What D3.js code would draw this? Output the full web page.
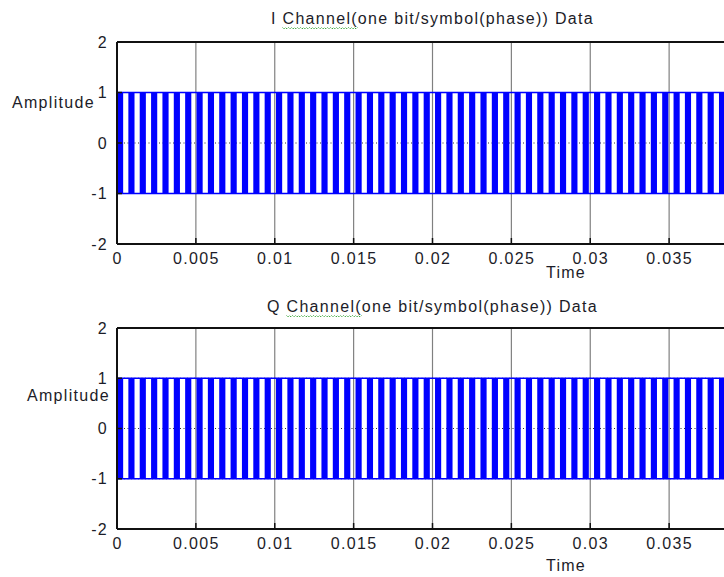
<!DOCTYPE html>
<html><head><meta charset="utf-8">
<script src="https://cdn.jsdelivr.net/npm/d3@7"></script>
<style>
html,body{margin:0;padding:0;background:#fff;}
svg{display:block;}
text{font-family:"Liberation Sans",Arial,sans-serif;font-size:16px;letter-spacing:1.3px;fill:#1c1c28;}
</style></head>
<body>
<svg id="chart" width="724" height="577"></svg>
<script>
// ---- data ----
const channelTitles = ["I Channel(one bit/symbol(phase)) Data", "Q Channel(one bit/symbol(phase)) Data"];
const xLabel = "Time";
const yLabel = "Amplitude";
const xDomain = [0, 0.04];
const yDomain = [-2, 2];
const xTicks = [0, 0.005, 0.01, 0.015, 0.02, 0.025, 0.03, 0.035];
const xTickLabels = ["0", "0.005", "0.01", "0.015", "0.02", "0.025", "0.03", "0.035"];
const yTicks = [-2, -1, 0, 1, 2];
const yTickLabels = ["-2", "-1", "0", "1", "2"];
const signalLevels = [-1, 1];
// start times (s) of the dense +1/-1 bursts
const burstStarts = [0, 0.00072, 0.00144, 0.00216, 0.00288, 0.0036, 0.00432, 0.00504, 0.00576, 0.00648,
  0.0072, 0.00792, 0.00864, 0.00936, 0.01008, 0.0108, 0.01152, 0.01224, 0.01296, 0.01368,
  0.0144, 0.01512, 0.01584, 0.01656, 0.01728, 0.018, 0.01872, 0.01944, 0.02016, 0.02088,
  0.0216, 0.02232, 0.02304, 0.02376, 0.02448, 0.0252, 0.02592, 0.02664, 0.02736, 0.02808,
  0.0288, 0.02952, 0.03024, 0.03096, 0.03168, 0.0324, 0.03312, 0.03384, 0.03456, 0.03528,
  0.036, 0.03672, 0.03744, 0.03816, 0.03888, 0.0396];
const burstDuration = 0.00039;

// ---- layout ----
const panels = [
  {top: 42, bottom: 244, titleY: 24, tickY: 265, xLabelY: 278, yLabelX: 12, yLabelY: 108},
  {top: 328, bottom: 529, titleY: 312, tickY: 550, xLabelY: 571, yLabelX: 27, yLabelY: 401}
];
const left = 117, right = 748;
const svg = d3.select("#chart");

panels.forEach((p, i) => {
  const x = d3.scaleLinear().domain(xDomain).range([left, right]);
  const y = d3.scaleLinear().domain(yDomain).range([p.bottom, p.top]);
  const g = svg.append("g");

  // vertical grid
  g.append("g").selectAll("line").data(xTicks.slice(1)).join("line")
    .attr("x1", d => x(d)).attr("x2", d => x(d))
    .attr("y1", p.top).attr("y2", p.bottom)
    .attr("stroke", "#808080").attr("stroke-width", 1.2);
  // horizontal grid (dotted)
  g.append("g").selectAll("line").data(yTicks.filter(d => d > yDomain[0] && d < yDomain[1])).join("line")
    .attr("x1", left).attr("x2", right)
    .attr("y1", d => y(d)).attr("y2", d => y(d))
    .attr("stroke", "#333").attr("stroke-width", 1).attr("stroke-dasharray", "1,2.5");

  // signal bursts
  g.append("g").selectAll("rect").data(burstStarts).join("rect")
    .attr("x", d => x(d)).attr("width", d => x(d + burstDuration) - x(d))
    .attr("y", y(signalLevels[1])).attr("height", y(signalLevels[0]) - y(signalLevels[1]))
    .attr("fill", "#0000ff");
  // envelope lines at +1 / -1
  g.append("g").selectAll("line").data(signalLevels).join("line")
    .attr("x1", x(xDomain[0])).attr("x2", x(xDomain[1]))
    .attr("y1", d => y(d)).attr("y2", d => y(d))
    .attr("stroke", "#0000ff").attr("stroke-width", 1.5);

  // axes box
  const ax = g.append("g").attr("fill", "none").attr("stroke", "#111").attr("stroke-width", 2);
  ax.append("line").attr("x1", left).attr("x2", right).attr("y1", p.top).attr("y2", p.top);
  ax.append("line").attr("x1", left).attr("x2", right).attr("y1", p.bottom).attr("y2", p.bottom);
  ax.append("line").attr("x1", left).attr("x2", left).attr("y1", p.top).attr("y2", p.bottom);

  // x axis tick labels
  const xAxis = d3.axisBottom(x).tickValues(xTicks).tickFormat((d, k) => xTickLabels[k]).tickSize(0).tickPadding(0);
  const xg = g.append("g").attr("transform", `translate(0,${p.tickY - 12})`).call(xAxis);
  xg.select(".domain").remove();
  xg.selectAll("text").attr("dy", "0.71em").attr("fill", "#1c1c28")
    .style("font-size", "16px").style("font-family", '"Liberation Sans",Arial,sans-serif');
  // small tick marks
  g.append("g").selectAll("line").data(xTicks).join("line")
    .attr("x1", d => x(d)).attr("x2", d => x(d))
    .attr("y1", p.bottom).attr("y2", p.bottom - 6)
    .attr("stroke", "#111").attr("stroke-width", 1.5);

  // y axis tick labels
  const yAxis = d3.axisLeft(y).tickValues(yTicks).tickFormat((d, k) => yTickLabels[k]).tickSize(0).tickPadding(9);
  const yg = g.append("g").attr("transform", `translate(${left},0)`).call(yAxis);
  yg.select(".domain").remove();
  yg.selectAll("text").attr("fill", "#1c1c28")
    .style("font-size", "16px").style("font-family", '"Liberation Sans",Arial,sans-serif');
  g.append("g").selectAll("line").data(yTicks).join("line")
    .attr("x1", left).attr("x2", left + 5)
    .attr("y1", d => y(d)).attr("y2", d => y(d))
    .attr("stroke", "#111").attr("stroke-width", 1.5);

  // title
  const title = g.append("text").attr("x", (left + right) / 2).attr("y", p.titleY)
    .attr("text-anchor", "middle").text(channelTitles[i]);
  // spell-check squiggle under "Channel("
  const node = title.node();
  const e0 = node.getExtentOfChar(2), e1 = node.getExtentOfChar(9);
  const sx0 = e0.x, sx1 = e1.x + e1.width, sy = p.titleY + 4;
  const pts = [];
  for (let xx = sx0, k = 0; xx <= sx1; xx += 1.5, k++) pts.push([xx, sy + (k % 2 ? 1 : -0.5)]);
  g.append("path").attr("d", d3.line()(pts)).attr("fill", "none")
    .attr("stroke", "#3aa53a").attr("stroke-width", 1).attr("stroke-dasharray", "1.5,1");

  // labels
  g.append("text").attr("x", 566).attr("y", p.xLabelY).attr("text-anchor", "middle").text(xLabel);
  g.append("text").attr("x", p.yLabelX).attr("y", p.yLabelY).text(yLabel);
});
</script>
</body></html>
